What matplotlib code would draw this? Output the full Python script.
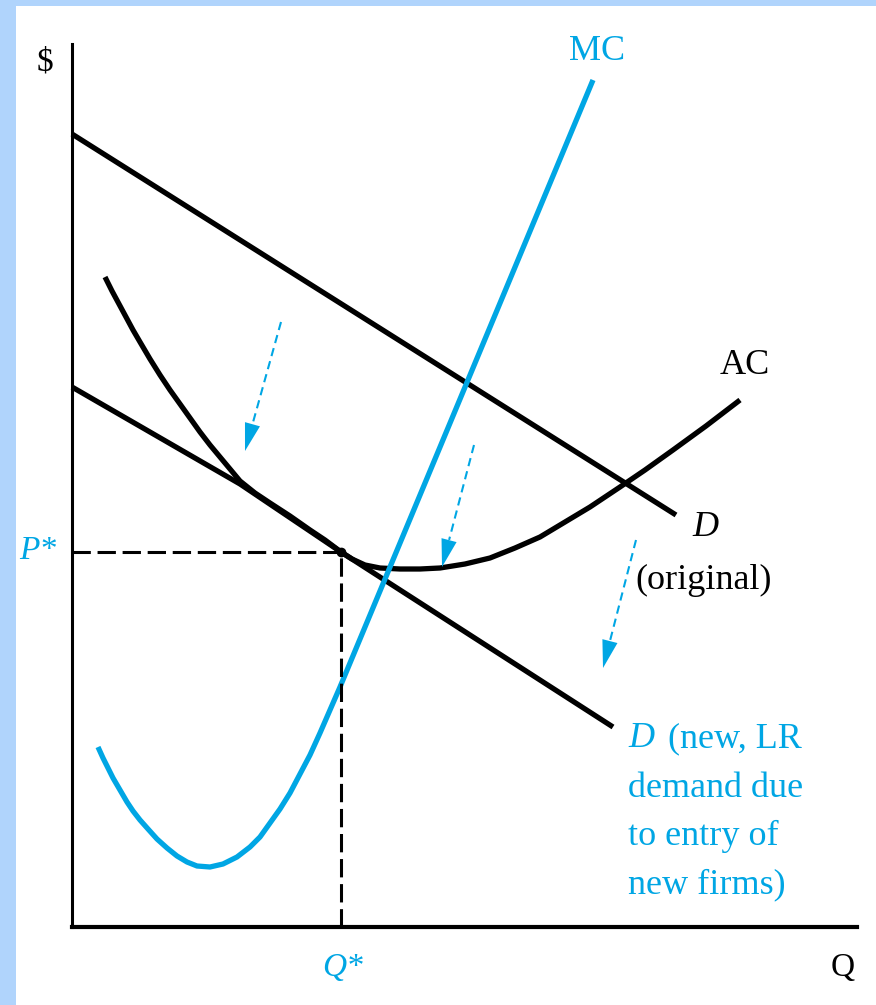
import numpy as np
import matplotlib
matplotlib.use("Agg")
import matplotlib.pyplot as plt
from matplotlib.patches import Rectangle

plt.rcParams["font.family"] = ["Liberation Serif", "DejaVu Serif"]

BLUE = "#00a6e4"
FRAME = "#b0d4fc"

# quantities / prices (arbitrary units, origin at the axes corner)
d_orig_q = [0, 604]
d_orig_p = [793, 412]

d_new_q = [0, 168, 269, 541]
d_new_p = [540, 443, 375, 200]

ac_q = [33, 40, 47, 54, 61, 68, 78, 88, 98, 108, 118, 128, 138, 148, 158, 168,
        183, 198, 218, 238, 253, 269, 280, 293, 308, 328, 348, 368, 393, 418,
        443, 468, 493, 518, 548, 573, 601, 634, 668]
ac_p = [650, 636, 623, 610, 597, 585, 568, 552, 537, 523, 509, 495, 482, 470, 458, 446,
        434, 424, 411, 397, 387, 375, 368, 362, 359, 358, 358, 359, 363, 369,
        379, 390, 405, 420, 440, 457, 477, 501, 527]

mc_q = [26, 31, 36, 41, 48, 55, 61, 68, 76, 85, 95, 105, 115, 125, 138, 151,
        165, 178, 188, 198, 208, 218, 228, 238, 248, 258, 268, 521]
mc_p = [180, 169, 159, 149, 137, 125, 116, 107, 98, 88, 79, 71, 65, 61, 60, 63,
        70, 80, 90, 104, 118, 134, 153, 172, 194, 217, 240, 847]

q_star = 269
p_star = 375

# shift arrows: (tail, tip)
arrows = [
    ((209, 605), (173, 476)),
    ((402, 482), (370, 360)),
    ((564, 387), (531, 259)),
]

fig = plt.figure(figsize=(8.76, 10.05), dpi=100, facecolor="white")
# light blue frame strips on the left and top
fig.add_artist(Rectangle((0, 0), 16 / 876, 1, transform=fig.transFigure,
                         facecolor=FRAME, edgecolor="none", zorder=-5))
fig.add_artist(Rectangle((0, 1 - 6 / 1005), 1, 6 / 1005, transform=fig.transFigure,
                         facecolor=FRAME, edgecolor="none", zorder=-5))

ax = fig.add_axes([72 / 876, 78 / 1005, 785 / 876, 883 / 1005])
ax.set_facecolor("none")
ax.set_xlim(0, 785)
ax.set_ylim(0, 883)
ax.spines["top"].set_visible(False)
ax.spines["right"].set_visible(False)
ax.spines["left"].set_linewidth(2.2)
ax.spines["bottom"].set_linewidth(3)
ax.set_xticks([])
ax.set_yticks([])

lw = 3.8
ax.plot(d_orig_q, d_orig_p, color="black", lw=lw, solid_capstyle="butt", clip_on=False)
ax.plot(d_new_q, d_new_p, color="black", lw=lw, solid_capstyle="butt", clip_on=False)
ax.plot(ac_q, ac_p, color="black", lw=lw, solid_capstyle="butt", solid_joinstyle="round")
ax.plot(mc_q, mc_p, color=BLUE, lw=lw, solid_capstyle="butt", solid_joinstyle="round")

# P*, Q* guides
ax.plot([0, q_star], [p_star, p_star], color="black", lw=2.2, dashes=(6, 2.2))
ax.plot([q_star, q_star], [0, p_star], color="black", lw=2.2, dashes=(6, 2.2))
ax.plot([q_star], [p_star], "o", color="black", ms=6)

# dashed shift arrows
for tail, tip in arrows:
    tail = np.array(tail, float)
    tip = np.array(tip, float)
    u = (tip - tail) / np.hypot(*(tip - tail))
    base = tip - 28 * u
    ax.plot([tail[0], base[0]], [tail[1], base[1]], color=BLUE, lw=1.5, dashes=(4, 2.5))
    ax.annotate("", xy=tip, xytext=base,
                arrowprops=dict(arrowstyle="-|>,head_length=1.0,head_width=0.28",
                                mutation_scale=20, color=BLUE, lw=0,
                                shrinkA=0, shrinkB=0))

fs = 26
ax.text(-27, 865, "$", fontsize=24, ha="center", va="center")
ax.text(525, 875, "MC", fontsize=fs, color=BLUE, ha="center", va="center")
ax.text(673, 561, "AC", fontsize=fs, ha="center", va="center")
ax.text(633, 400, "D", fontsize=fs, style="italic", ha="center", va="center")
ax.text(632, 347, "(original)", fontsize=fs, ha="center", va="center")

ax.text(556, 180, "D", fontsize=fs, style="italic", color=BLUE, ha="left", va="baseline")
ax.text(596, 180, "(new, LR", fontsize=fs, color=BLUE, ha="left", va="baseline")
for txt, base_p in [("demand due", 130), ("to entry of", 82), ("new firms)", 34)]:
    ax.text(556, base_p, txt, fontsize=fs, color=BLUE, ha="left", va="baseline")

ax.text(-34, 376, "P*", fontsize=24, style="italic", color=BLUE, ha="center", va="center")
ax.text(q_star + 2, -41, "Q*", fontsize=24, style="italic", color=BLUE, ha="center", va="center")
ax.text(771, -41, "Q", fontsize=24, ha="center", va="center")

fig.savefig("out.png", dpi=100, facecolor=fig.get_facecolor())
